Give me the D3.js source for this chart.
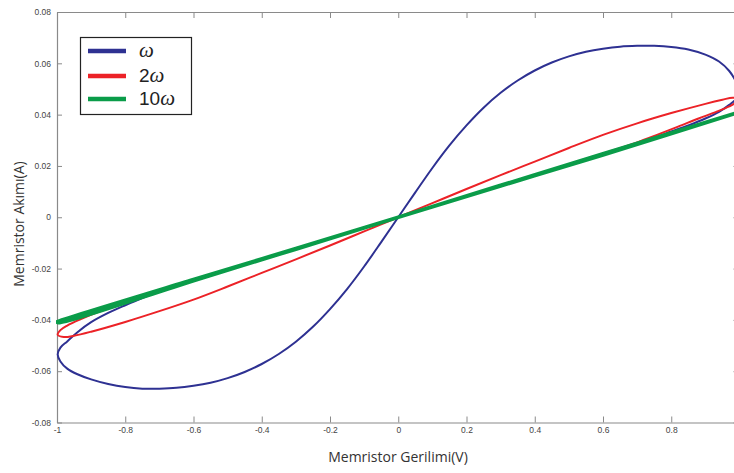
<!DOCTYPE html>
<html><head><meta charset="utf-8">
<script src="https://cdn.jsdelivr.net/npm/d3@7"></script>
<style>body{margin:0;background:#fff}svg{display:block}</style>
</head><body>
<script>
// ---- data (voltage V, current A) ----
// Each loop is listed in trajectory order: steep branch up to the right tip,
// shallow branch back through the origin to the left tip, steep branch back to the origin.
const xTicks = [-1, -0.8, -0.6, -0.4, -0.2, 0, 0.2, 0.4, 0.6, 0.8];
const yTicks = [0.08, 0.06, 0.04, 0.02, 0, -0.02, -0.04, -0.06, -0.08];
const seriesNames = ["ω", "2ω", "10ω"];
const seriesColors = ["#2e3192", "#ec2227", "#0a9c49"];

const loopOmega = [
  [0,0],[0.05,0.0097],[0.10,0.0192],[0.15,0.0280],[0.20,0.0358],[0.25,0.0427],[0.30,0.0485],
  [0.35,0.0533],[0.40,0.0572],[0.45,0.0603],[0.50,0.0627],[0.55,0.0645],[0.60,0.0657],
  [0.65,0.0665],[0.70,0.0668],[0.75,0.0668],[0.80,0.0664],[0.85,0.0654],[0.90,0.0634],
  [0.94,0.0607],[0.97,0.0570],[0.99,0.0527],[0.998,0.0492],[0.99,0.0462],[0.97,0.0438],
  [0.94,0.0411],[0.90,0.0385],[0.85,0.0358],[0.80,0.0334],[0.75,0.0310],[0.70,0.0288],
  [0.60,0.0245],[0.50,0.0204],[0.40,0.0163],[0.30,0.0122],[0.20,0.0082],[0.10,0.0041],[0,0],
  [-0.10,-0.0041],[-0.20,-0.0082],[-0.30,-0.0122],[-0.40,-0.0163],[-0.50,-0.0204],[-0.60,-0.0245],
  [-0.70,-0.0290],[-0.75,-0.0315],[-0.80,-0.0343],[-0.85,-0.0373],[-0.90,-0.0409],[-0.94,-0.0448],
  [-0.97,-0.0484],[-0.99,-0.0508],[-0.998,-0.0535],[-0.99,-0.0562],[-0.97,-0.0590],[-0.94,-0.0612],
  [-0.90,-0.0632],[-0.85,-0.0650],[-0.80,-0.0662],[-0.75,-0.0668],[-0.70,-0.0668],[-0.65,-0.0665],
  [-0.60,-0.0657],[-0.55,-0.0645],[-0.50,-0.0627],[-0.45,-0.0603],[-0.40,-0.0572],[-0.35,-0.0533],
  [-0.30,-0.0485],[-0.25,-0.0427],[-0.20,-0.0358],[-0.15,-0.0280],[-0.10,-0.0192],[-0.05,-0.0097]
];
const loop2Omega = [
  [0,0],[0.1,0.0055],[0.2,0.0110],[0.3,0.0164],[0.4,0.0217],[0.5,0.0270],[0.6,0.0321],
  [0.7,0.0366],[0.8,0.0406],[0.9,0.0442],[0.95,0.0458],[0.98,0.0466],[0.998,0.0460],
  [0.99,0.0447],[0.97,0.0432],[0.93,0.0410],[0.88,0.0385],[0.82,0.0353],[0.76,0.0322],
  [0.70,0.0292],[0.6,0.0248],[0.5,0.0206],[0.4,0.0164],[0.3,0.0123],[0.2,0.0082],[0.1,0.0041],[0,0],
  [-0.1,-0.0041],[-0.2,-0.0082],[-0.3,-0.0123],[-0.4,-0.0164],[-0.5,-0.0205],[-0.6,-0.0246],
  [-0.70,-0.0289],[-0.76,-0.0316],[-0.82,-0.0342],[-0.88,-0.0370],[-0.93,-0.0397],[-0.97,-0.0422],
  [-0.99,-0.0440],[-0.998,-0.0458],[-0.98,-0.0467],[-0.95,-0.0462],[-0.9,-0.0446],[-0.8,-0.0408],
  [-0.7,-0.0366],[-0.6,-0.0321],[-0.5,-0.0270],[-0.4,-0.0217],[-0.3,-0.0164],[-0.2,-0.0110],[-0.1,-0.0055]
];
const loop10Omega = [
  [0,0],[0.3,0.0124],[0.6,0.0247],[1.0,0.0410],[0.6,0.0243],[0.3,0.0122],[0,0],
  [-0.3,-0.0122],[-0.6,-0.0243],[-0.995,-0.0405],[-1.0,-0.0408],[-0.995,-0.0411],
  [-0.6,-0.0247],[-0.3,-0.0124]
];
const loops = [loopOmega, loop2Omega, loop10Omega];

// ---- layout ----
const W = 734, H = 473;
const x = d3.scaleLinear().domain([-1, 1]).range([57, 739.5]);
const y = d3.scaleLinear().domain([-0.08, 0.08]).range([422.5, 12]);

const svg = d3.select("body").append("svg").attr("width", W).attr("height", H);
const fmt = d => d === 0 ? "0" : String(d);

svg.append("defs").append("clipPath").attr("id","clip")
  .append("rect").attr("x",x(-1)-1).attr("y",y(0.08)).attr("width",x(1)-x(-1)+4).attr("height",y(-0.08)-y(0.08));

const axisColor = "#8a8a8a";
function styleAxis(g){
  g.select(".domain").attr("stroke", axisColor).attr("stroke-width", 1.2);
  g.selectAll(".tick line").attr("stroke", axisColor).attr("stroke-width", 1);
  g.selectAll(".tick text").attr("fill", "#444").attr("font-size", "8.5px")
    .attr("font-family", "'Liberation Sans', Arial, sans-serif");
}
svg.append("g").attr("transform", `translate(0,${y(-0.08)})`)
  .call(d3.axisBottom(x).tickValues(xTicks).tickFormat(fmt).tickSizeInner(-6).tickSizeOuter(0).tickPadding(4))
  .call(styleAxis);
svg.append("g").attr("transform", `translate(0,${y(0.08)})`)
  .call(d3.axisTop(x).tickValues(xTicks).tickFormat("").tickSizeInner(-6).tickSizeOuter(0))
  .call(styleAxis);
svg.append("g").attr("transform", `translate(${x(-1)},0)`)
  .call(d3.axisLeft(y).tickValues(yTicks).tickFormat(fmt).tickSizeInner(-5).tickSizeOuter(0).tickPadding(6))
  .call(styleAxis);
svg.append("g").attr("transform", `translate(${x(1)},0)`)
  .call(d3.axisRight(y).tickValues(yTicks).tickFormat("").tickSizeInner(-6).tickSizeOuter(0))
  .call(styleAxis);

// ---- curves ----
const line = d3.line().x(d => x(d[0])).y(d => y(d[1])).curve(d3.curveCatmullRomClosed.alpha(0.5));
const widths = [2, 2, 3.8];
const plot = svg.append("g").attr("clip-path","url(#clip)");
loops.forEach((pts, k) => {
  plot.append("path").datum(pts).attr("d", line)
    .attr("fill", "none").attr("stroke", seriesColors[k]).attr("stroke-width", widths[k])
    .attr("stroke-linejoin","round");
});

// ---- legend ----
const lg = svg.append("g");
lg.append("rect").attr("x", 80.5).attr("y", 37.5).attr("width", 111).attr("height", 77)
  .attr("fill", "#fff").attr("stroke", "#222").attr("stroke-width", 1.2);
const legY = [51, 76, 99];
seriesNames.forEach((name, k) => {
  lg.append("line").attr("x1", 88).attr("x2", 126).attr("y1", legY[k]).attr("y2", legY[k])
    .attr("stroke", seriesColors[k]).attr("stroke-width", 4.5);
  const t = lg.append("text").attr("x", 139).attr("y", legY[k] + 6)
    .attr("font-size", "19px").attr("fill", "#222")
    .attr("font-family", "'Liberation Sans', Arial, sans-serif");
  const num = name.replace("ω", "");
  if (num) t.append("tspan").text(num);
  t.append("tspan").attr("font-family", "'Liberation Serif', 'DejaVu Serif', serif")
    .attr("font-style", "italic").attr("font-size", "21px").text("ω");
});

// ---- titles ----
svg.append("text").attr("x", 398).attr("y", 462).attr("text-anchor", "middle")
  .attr("font-size", "14px").attr("fill", "#333")
  .attr("font-family", "'Open Sans', 'Liberation Sans', sans-serif")
  .text("Memristor Gerilimi(V)");
svg.append("text").attr("transform", "translate(24,224) rotate(-90)").attr("text-anchor", "middle")
  .attr("font-size", "14px").attr("fill", "#333")
  .attr("font-family", "'Open Sans', 'Liberation Sans', sans-serif")
  .text("Memristor Akımı(A)");
</script>
</body></html>
